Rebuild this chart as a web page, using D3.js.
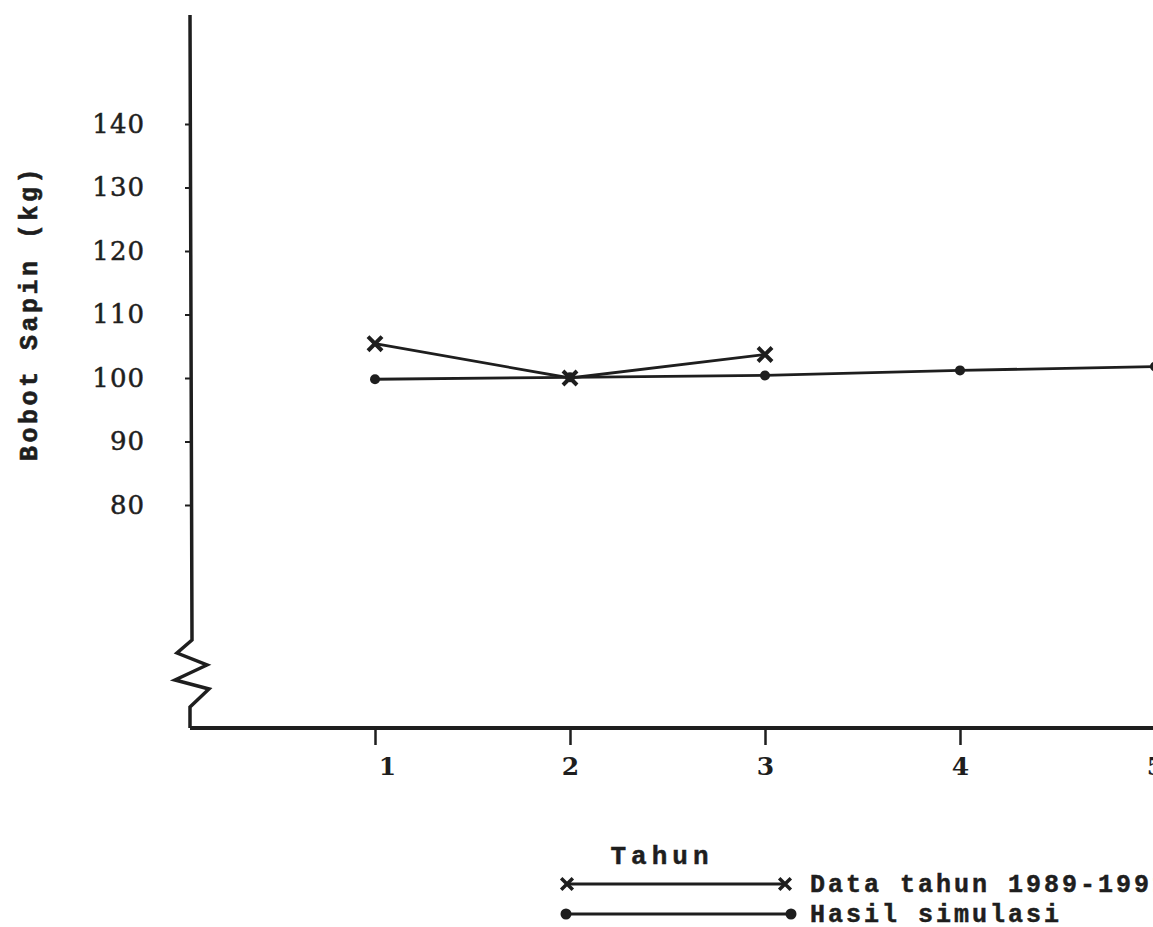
<!DOCTYPE html>
<html>
<head>
<meta charset="utf-8">
<script src="https://cdn.jsdelivr.net/npm/d3@7"></script>
<style>
  body { margin: 0; background: #fff; overflow: hidden; }
</style>
</head>
<body>
<div id="graphContainer"></div>
<script>
// data
let tahun = [1, 2, 3, 4, 5];
let dataTahun = [105.4, 100.0, 103.7];          // Data tahun 1989-1991
let hasilSimulasi = [99.8, 100.1, 100.4, 101.2, 101.8];
let yTicks = [80, 90, 100, 110, 120, 130, 140];
let legendLabels = ["Data tahun 1989-1991", "Hasil simulasi"];

function add() {
    let width = 1153;
    let height = 927;
    let svg = d3.select("#graphContainer").append("svg")
        .attr("width", width)
        .attr("height", height);
    return {svg, width, height};
}

function drawChart() {
    let {svg, width, height} = add();
    let ink = "#1e1e1e";

    let x = d3.scaleLinear().domain([1, 5]).range([375, 1155]);
    let y = d3.scaleLinear().domain([80, 140]).range([505, 124]);

    let x0 = 190, yBase = 728;

    // y axis line with the break zigzag
    svg.append("path")
        .attr("d", d3.line()([[x0, 15], [x0 + 2, 640], [177, 653], [207, 665], [175, 680], [209, 689], [x0, 707], [x0, yBase]]))
        .attr("fill", "none")
        .attr("stroke", ink)
        .attr("stroke-width", 3.5)
        .attr("stroke-linejoin", "miter");

    // x axis line
    svg.append("line")
        .attr("x1", x0).attr("x2", width)
        .attr("y1", yBase).attr("y2", yBase)
        .attr("stroke", ink)
        .attr("stroke-width", 4);

    let yAxis = svg.append("g")
        .attr("transform", `translate(${x0},0)`)
        .call(d3.axisLeft(y).tickValues(yTicks).tickSize(5).tickPadding(40));
    yAxis.select(".domain").remove();
    yAxis.selectAll("line").attr("stroke", ink).attr("stroke-width", 2);
    yAxis.selectAll("text")
        .attr("fill", ink)
        .attr("stroke", ink)
        .attr("stroke-width", 0.5)
        .style("font-family", "DejaVu Serif")
        .style("font-size", "26px")
        .style("letter-spacing", "1px");

    let xAxis = svg.append("g")
        .attr("transform", `translate(0,${yBase})`)
        .call(d3.axisBottom(x).tickValues(tahun).tickFormat(d3.format("d")).tickSize(17).tickPadding(12));
    xAxis.select(".domain").remove();
    xAxis.selectAll("line").attr("stroke", ink).attr("stroke-width", 2.5);
    xAxis.selectAll("text")
        .attr("fill", ink)
        .attr("dx", (d, i) => i === 0 ? 12 : 0)
        .style("font-family", "DejaVu Serif")
        .style("font-size", "25px")
        .style("font-weight", "bold");

    // y label
    svg.append("text")
        .attr("transform", "translate(37,313) rotate(-90)")
        .attr("text-anchor", "middle")
        .attr("fill", ink)
        .attr("stroke", ink)
        .attr("stroke-width", 0.6)
        .style("font-family", "Liberation Mono")
        .style("font-weight", "bold")
        .style("font-size", "25px")
        .style("letter-spacing", "3.5px")
        .text("Bobot Sapin (kg)");

    svg.append("text")
        .attr("x", 662).attr("y", 864)
        .attr("text-anchor", "middle")
        .attr("fill", ink)
        .attr("stroke", ink)
        .attr("stroke-width", 0.5)
        .style("font-family", "Liberation Mono")
        .style("font-weight", "bold")
        .style("font-size", "26px")
        .style("letter-spacing", "5px")
        .text("Tahun");

    let line = d3.line().x((d, i) => x(tahun[i])).y(d => y(d));

    svg.append("path")
        .datum(dataTahun)
        .attr("d", line)
        .attr("fill", "none")
        .attr("stroke", ink)
        .attr("stroke-width", 2.8);

    svg.append("path")
        .datum(hasilSimulasi)
        .attr("d", line)
        .attr("fill", "none")
        .attr("stroke", ink)
        .attr("stroke-width", 2.8);

    let cross = d3.symbol().type(d3.symbolX).size(130);

    svg.selectAll("null")
        .data(dataTahun)
        .enter().append("path")
        .attr("d", cross)
        .attr("transform", (d, i) => `translate(${x(tahun[i])},${y(d)})`)
        .attr("fill", "none")
        .attr("stroke", ink)
        .attr("stroke-width", 4);

    svg.selectAll("null")
        .data(hasilSimulasi)
        .enter().append("circle")
        .attr("cx", (d, i) => x(tahun[i]))
        .attr("cy", d => y(d))
        .attr("r", 5)
        .attr("fill", ink);

    // legend
    let lg = svg.append("g");
    let rows = [{y: 884, x1: 567, x2: 785}, {y: 914, x1: 566, x2: 791}];

    lg.append("line")
        .attr("x1", rows[0].x1).attr("x2", rows[0].x2)
        .attr("y1", rows[0].y).attr("y2", rows[0].y)
        .attr("stroke", ink).attr("stroke-width", 2.8);
    [rows[0].x1, rows[0].x2].forEach(px => {
        lg.append("path")
            .attr("d", d3.symbol().type(d3.symbolX).size(90))
            .attr("transform", `translate(${px},${rows[0].y})`)
            .attr("stroke", ink).attr("stroke-width", 3.5);
    });

    lg.append("line")
        .attr("x1", rows[1].x1).attr("x2", rows[1].x2)
        .attr("y1", rows[1].y).attr("y2", rows[1].y)
        .attr("stroke", ink).attr("stroke-width", 2.8);
    [rows[1].x1, rows[1].x2].forEach(px => {
        lg.append("circle")
            .attr("cx", px).attr("cy", rows[1].y)
            .attr("r", 5.5).attr("fill", ink);
    });

    lg.selectAll("null")
        .data(legendLabels)
        .enter().append("text")
        .attr("x", 810)
        .attr("y", (d, i) => rows[i].y + 8)
        .attr("fill", ink)
        .attr("stroke", ink)
        .attr("stroke-width", 0.5)
        .style("font-family", "Liberation Mono")
        .style("font-weight", "bold")
        .style("font-size", "25px")
        .style("letter-spacing", "3px")
        .text(d => d);
}

drawChart();
</script>
</body>
</html>
